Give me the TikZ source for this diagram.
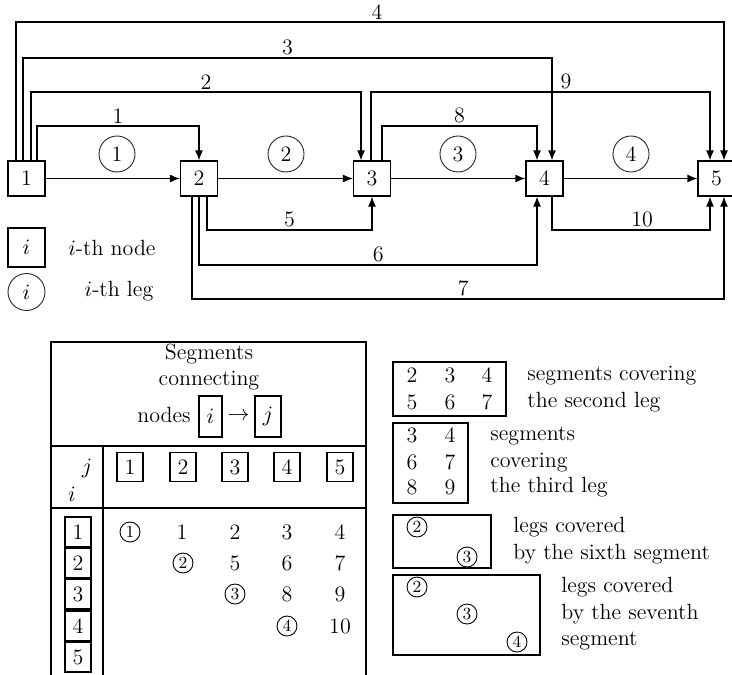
\documentclass[tikz,border=0pt]{standalone}
\usetikzlibrary{arrows.meta,calc}
\begin{document}
\begin{tikzpicture}[x=0.5pt,y=-0.5pt,font=\fontsize{11}{13.6}\selectfont,
  nd/.style={draw,line width=0.6pt,minimum width=18.5pt,minimum height=17.5pt,inner sep=0pt},
  leg/.style={draw=black!85,circle,line width=0.45pt,minimum size=18pt,inner sep=0pt},
  arr/.style={line width=0.6pt,-{Latex[length=5pt,width=4pt]}},
  lab/.style={above,inner sep=1pt},
  sc/.style={draw,circle,line width=0.45pt,inner sep=0pt,minimum size=10pt,font=\fontsize{8.5}{10}\selectfont},
  tb/.style={draw,line width=0.7pt,inner sep=0pt,minimum width=13pt,minimum height=14.5pt},
  tx/.style={anchor=west,inner sep=0pt,text height=1.6ex,text depth=0.4ex},
  bx/.style={line width=0.7pt}]
\useasboundingbox (0,0) rectangle (732,674);

% main nodes
\node[nd] (n1) at (26.5,178.5) {1};
\node[nd] (n2) at (199,178.5) {2};
\node[nd] (n3) at (372,178.5) {3};
\node[nd] (n4) at (544.5,178.5) {4};
\node[nd] (n5) at (716.5,178.5) {5};

% legs
\draw[arr] (n1) -- (n2);
\draw[arr] (n2) -- (n3);
\draw[arr] (n3) -- (n4);
\draw[arr] (n4) -- (n5);
\node[leg] (l1) at (117,154) {1};
\node[leg] (l2) at (286,154) {2};
\node[leg] (l3) at (458,154) {3};
\node[leg] (l4) at (631,154) {4};

% segment end points
\coordinate (s4) at ($(n1.north)+(-10.5,0)$);
\coordinate (s3) at ($(n1.north)+(-3.5,0)$);
\coordinate (s2) at ($(n1.north)+(4.5,0)$);
\coordinate (s1) at ($(n1.north)+(10.5,0)$);
\coordinate (t4) at ($(n5.north)+(7.5,0)$);
\coordinate (t3) at ($(n4.north)+(7.5,0)$);
\coordinate (t2) at ($(n3.north)+(-11,0)$);
\coordinate (t1) at (n2.north);
\coordinate (s9) at ($(n3.north)+(-1,0)$);
\coordinate (s8) at ($(n3.north)+(10,0)$);
\coordinate (t9) at ($(n5.north)+(-6.5,0)$);
\coordinate (t8) at ($(n4.north)+(-7.5,0)$);
\coordinate (s5) at ($(n2.south)+(8,0)$);
\coordinate (t5) at (n3.south);
\coordinate (s6) at (n2.south);
\coordinate (t6) at ($(n4.south)+(-7.5,0)$);
\coordinate (s7) at ($(n2.south)+(-7,0)$);
\coordinate (t7) at ($(n5.south)+(7.5,0)$);
\coordinate (s10) at ($(n4.south)+(7.5,0)$);
\coordinate (t10) at ($(n5.south)+(-6.5,0)$);

% segments
\draw[arr] (s4) -- (s4 |- 0,22) -- node[lab,pos=0.51]{4} (t4 |- 0,22) -- (t4);
\draw[arr] (s3) -- (s3 |- 0,58) -- node[lab]{3} (t3 |- 0,58) -- (t3);
\draw[arr] (s2) -- (s2 |- 0,92) -- node[lab,pos=0.53]{2} (t2 |- 0,92) -- (t2);
\draw[arr] (s1) -- (s1 |- 0,126) -- node[lab]{1} (t1 |- 0,126) -- (t1);
\draw[arr] (s9) -- (s9 |- 0,92) -- node[lab,pos=0.575]{9} (t9 |- 0,92) -- (t9);
\draw[arr] (s8) -- (s8 |- 0,126) -- node[lab]{8} (t8 |- 0,126) -- (t8);
\draw[arr] (s5) -- (s5 |- 0,230) -- node[lab]{5} (t5 |- 0,230) -- (t5);
\draw[arr] (s6) -- (s6 |- 0,265) -- node[lab,pos=0.53]{6} (t6 |- 0,265) -- (t6);
\draw[arr] (s7) -- (s7 |- 0,299) -- node[lab,pos=0.51]{7} (t7 |- 0,299) -- (t7);
\draw[arr] (s10) -- (s10 |- 0,230) -- node[lab,pos=0.57]{10} (t10 |- 0,230) -- (t10);

% legend
\node[nd,minimum height=19.5pt] (lgn) at (26.5,247.5) {$i$};
\node (lgnt) at (112,248) {$i$-th node};
\node[leg,minimum size=18.5pt] (lgl) at (26.5,292) {$i$};
\node (lglt) at (119,291) {$i$-th leg};

% table
\draw[bx] (51,690) -- (51,342) -- (366,342) -- (366,690);
\draw[bx] (51,446) -- (366,446);
\draw[bx] (51,508) -- (366,508);
\draw[bx] (103,446) -- (103,690);
\node (h1) at (209,354) {Segments};
\node (h2) at (209,381) {connecting};
\node (h3) at (164,415) {nodes};
\node[draw,line width=0.7pt,inner sep=0pt,minimum width=11.5pt,minimum height=20.5pt] (hi) at (210.5,416.5) {$i$};
\node (har) at (238.5,416) {$\rightarrow$};
\node[draw,line width=0.7pt,inner sep=0pt,minimum width=13pt,minimum height=20.5pt] (hj) at (268,416.5) {$j$};
\node (cj) at (87,468) {$j$};
\node (ci) at (72,494) {$i$};
\foreach \k/\x in {1/130,2/183,3/235,4/287,5/340}
  \node[tb] (c\k) at (\x,467) {\k};
\foreach \k/\y in {1/532,2/563,3/594,4/626,5/657}
  \node[tb,minimum height=15pt] (r\k) at (78,\y) {\k};
\node[sc] (e11) at (130,532) {1};
\node (e12) at (182,532) {1};
\node (e13) at (235,532) {2};
\node (e14) at (287,532) {3};
\node (e15) at (340,532) {4};
\node[sc] (e22) at (183,563) {2};
\node (e23) at (235,563) {5};
\node (e24) at (287,563) {6};
\node (e25) at (340,563) {7};
\node[sc] (e33) at (235,594) {3};
\node (e34) at (287,594) {8};
\node (e35) at (340,594) {9};
\node[sc] (e44) at (287,626) {4};
\node (e45) at (340,626) {10};

% right boxes
\draw[bx] (393,362) rectangle (506,416);
\node (a1) at (412,375) {2};
\node (a2) at (450,375) {3};
\node (a3) at (487,375) {4};
\node (a4) at (412,402) {5};
\node (a5) at (450,402) {6};
\node (a6) at (487,402) {7};
\node[tx] (at1) at (527,375) {segments covering};
\node[tx] (at2) at (527,402) {the second leg};

\draw[bx] (393,423) rectangle (468,503);
\node (b1) at (412,435) {3};
\node (b2) at (450,435) {4};
\node (b3) at (412,462) {6};
\node (b4) at (450,462) {7};
\node (b5) at (412,487) {8};
\node (b6) at (450,487) {9};
\node[tx] (bt1) at (490,435) {segments};
\node[tx] (bt2) at (490,462) {covering};
\node[tx] (bt3) at (490,487) {the third leg};

\draw[bx] (393,515) rectangle (491,568);
\node[sc] (c1c) at (417,527) {2};
\node[sc] (c2c) at (467,557) {3};
\node[tx] (ct1) at (513,527) {legs covered};
\node[tx] (ct2) at (513,554) {by the sixth segment};

\draw[bx] (393,575) rectangle (540,655);
\node[sc] (d1) at (417,587) {2};
\node[sc] (d2) at (467,614) {3};
\node[sc] (d3) at (517,642) {4};
\node[tx] (dt1) at (561,587) {legs covered};
\node[tx] (dt2) at (561,614) {by the seventh};
\node[tx] (dt3) at (561,640) {segment};
\end{tikzpicture}
\end{document}
